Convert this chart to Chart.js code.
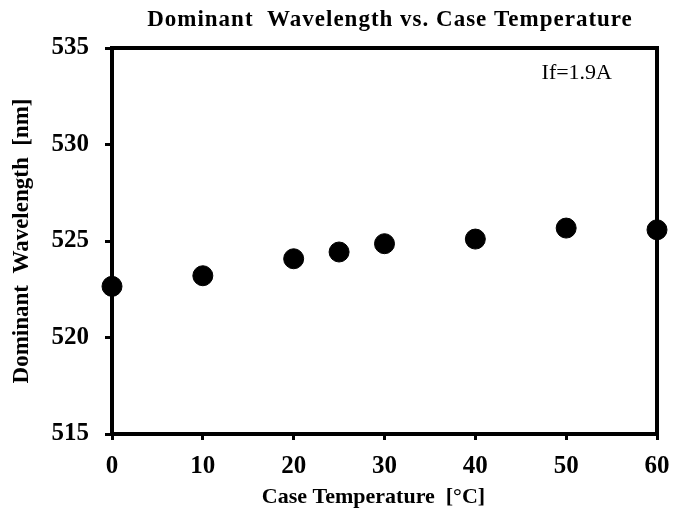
<!DOCTYPE html>
<html>
<head>
<meta charset="utf-8">
<script src="https://cdn.jsdelivr.net/npm/chart.js@4/dist/chart.umd.min.js"></script>
<style>
  html, body { margin: 0; padding: 0; background: #fff; }
  #wrap { width: 689px; height: 520px; }
</style>
</head>
<body>
<div id="wrap"><canvas id="wlChart" width="689" height="520"></canvas></div>
<script>
// Data
const caseTemp = [0, 10, 20, 25, 30, 40, 50, 60];
const domWavelength = [522.65, 523.2, 524.08, 524.43, 524.86, 525.1, 525.67, 525.58];
const xTicks = [0, 10, 20, 30, 40, 50, 60];
const yTicks = [515, 520, 525, 530, 535];
const titleText = 'Dominant  Wavelength vs. Case Temperature';
const noteText = 'If=1.9A';

const serif = "'Liberation Serif', 'Times New Roman', serif";

// frame around the plot area, the title and the current note
const framePlugin = {
    id: 'frame',
    afterDraw(chart) {
        const { ctx, chartArea: a } = chart;
        ctx.save();
        ctx.strokeStyle = '#000';
        ctx.lineWidth = 4;
        ctx.strokeRect(a.left, a.top, a.right - a.left, a.bottom - a.top);
        ctx.fillStyle = '#000';

        // title (spaced out like the original)
        ctx.font = 'bold 23px ' + serif;
        ctx.letterSpacing = '1px';
        ctx.textAlign = 'center';
        ctx.textBaseline = 'middle';
        ctx.fillText(titleText, 390, 20);

        ctx.letterSpacing = '0px';
        ctx.font = '22px ' + serif;
        ctx.textAlign = 'right';
        ctx.textBaseline = 'alphabetic';
        ctx.fillText(noteText, a.right - 45, a.top + 31);
        ctx.restore();
    }
};

const ctx = document.getElementById('wlChart').getContext('2d');
const chart = new Chart(ctx, {
    type: 'scatter',
    data: {
        datasets: [{
            label: 'Dominant Wavelength',
            data: caseTemp.map((t, i) => ({ x: t, y: domWavelength[i] })),
            backgroundColor: '#000',
            borderColor: '#000',
            pointRadius: 10,
            pointHoverRadius: 10,
            clip: false
        }]
    },
    options: {
        responsive: false,
        animation: false,
        events: [],
        layout: { padding: { left: 0, right: 32, top: 48, bottom: 0 } },
        plugins: {
            legend: { display: false },
            tooltip: { enabled: false },
            title: { display: false }
        },
        scales: {
            x: {
                type: 'linear',
                min: 0,
                max: 60,
                afterBuildTicks(scale) {
                    scale.ticks = xTicks.map(v => ({ value: v }));
                },
                afterFit(scale) { scale.height = 86; },
                border: { display: true, color: '#000', width: 4 },
                grid: {
                    drawOnChartArea: false,
                    drawTicks: true,
                    tickLength: 6,
                    tickWidth: 3,
                    tickColor: '#000'
                },
                ticks: {
                    color: '#000',
                    padding: 12,
                    font: { family: serif, size: 25, weight: 'bold' }
                },
                title: {
                    display: true,
                    text: 'Case Temperature  [°C]    ',
                    color: '#000',
                    font: { family: serif, size: 22, weight: 'bold' },
                    padding: { top: 6, bottom: 9 }
                }
            },
            y: {
                type: 'linear',
                min: 515,
                max: 535,
                afterBuildTicks(scale) {
                    scale.ticks = yTicks.map(v => ({ value: v }));
                },
                afterFit(scale) { scale.width = 112; },
                border: { display: true, color: '#000', width: 4 },
                grid: {
                    drawOnChartArea: false,
                    drawTicks: true,
                    tickLength: 7,
                    tickWidth: 3,
                    tickColor: '#000'
                },
                ticks: {
                    color: '#000',
                    padding: 16,
                    font: { family: serif, size: 25, weight: 'bold' }
                },
                title: {
                    display: true,
                    text: 'Dominant  Wavelength  [nm]',
                    color: '#000',
                    font: { family: serif, size: 23, weight: 'bold' },
                    padding: { top: 8, bottom: 4 }
                }
            }
        }
    },
    plugins: [framePlugin]
});
</script>
</body>
</html>
